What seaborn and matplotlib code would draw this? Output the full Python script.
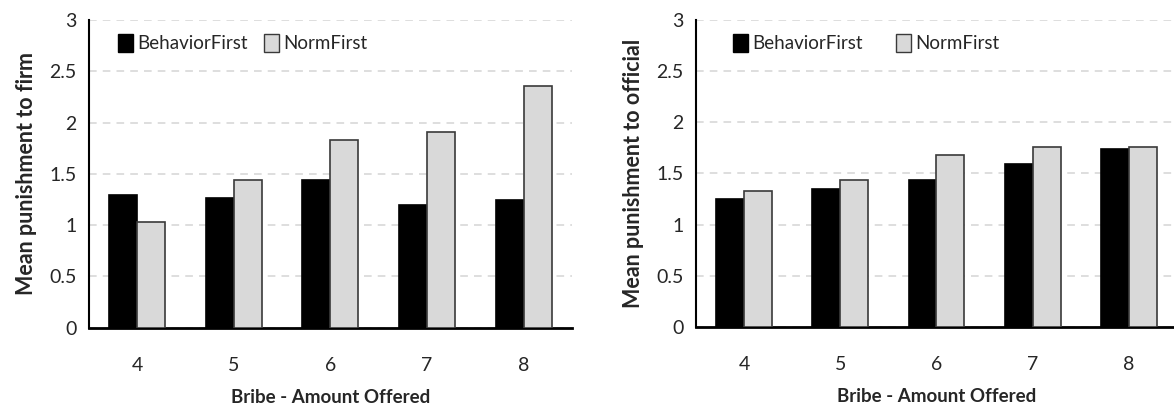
import pandas as pd
import matplotlib.pyplot as plt
import matplotlib.patches as mpatches
from matplotlib.ticker import FixedLocator
import seaborn as sns

# values
bribe = [4, 5, 6, 7, 8]
conditions = ["BehaviorFirst", "NormFirst"]
firm_behavior = [1.29, 1.26, 1.44, 1.20, 1.24]
firm_norm = [1.03, 1.44, 1.83, 1.91, 2.36]
official_behavior = [1.25, 1.35, 1.44, 1.59, 1.74]
official_norm = [1.33, 1.44, 1.68, 1.76, 1.76]
y_ticks = [0, 0.5, 1, 1.5, 2, 2.5, 3]
y_tick_labels = ["0", "0.5", "1", "1.5", "2", "2.5", "3"]

sns.set_style("white")
plt.rcParams["font.family"] = ["Lato", "DejaVu Sans"]

colors = {"BehaviorFirst": "#000000", "NormFirst": "#d9d9d9"}
edges = {"BehaviorFirst": "#000000", "NormFirst": "#3a3a3a"}


def long_form(behavior, norm):
    rows = []
    for b, v in zip(bribe, behavior):
        rows.append({"bribe": str(b), "cond": "BehaviorFirst", "value": v})
    for b, v in zip(bribe, norm):
        rows.append({"bribe": str(b), "cond": "NormFirst", "value": v})
    return pd.DataFrame(rows)


def draw(ax, df, ylabel, legend_xy, colspace):
    sns.barplot(data=df, x="bribe", y="value", hue="cond", hue_order=conditions,
                palette=colors, width=0.58, gap=0, ax=ax, legend=False, zorder=3)
    n = len(bribe)
    for i, p in enumerate(ax.patches):
        cond = conditions[i // n]
        p.set_edgecolor(edges[cond])
        p.set_linewidth(1.2)

    ax.set_ylim(0, 3)
    ax.set_xlim(-0.5, len(bribe) - 0.5)
    ax.set_yticks(y_ticks)
    ax.set_yticklabels(y_tick_labels, fontsize=14)
    ax.yaxis.grid(True, linestyle=(0, (5, 4)), color="#d4d4d4", linewidth=1.1, zorder=0)
    ax.xaxis.grid(False)
    ax.set_axisbelow(True)

    ax.tick_params(axis="x", which="major", length=0, labelsize=14, pad=21)
    ax.xaxis.set_minor_locator(FixedLocator([i - 0.5 for i in range(len(bribe) + 1)]))
    ax.tick_params(axis="x", which="minor", length=6, width=1.2, color="#444444", direction="out")
    ax.tick_params(axis="y", length=5, width=1.2, direction="out", color="#222222", pad=4)

    for side in ["top", "right"]:
        ax.spines[side].set_visible(False)
    ax.spines["left"].set_linewidth(1.5)
    ax.spines["left"].set_color("black")
    ax.spines["bottom"].set_linewidth(2)
    ax.spines["bottom"].set_color("black")

    ax.set_xlabel("Bribe - Amount Offered", fontsize=13.5, fontweight="bold", labelpad=11)
    ax.set_ylabel(ylabel, fontsize=15.5, fontweight="bold", labelpad=9)

    handles = [mpatches.Patch(facecolor=colors[c], edgecolor=edges[c], linewidth=1) for c in conditions]
    ax.legend(handles, conditions, loc="center left", bbox_to_anchor=legend_xy, frameon=False,
              ncol=2, fontsize=13.5, handlelength=0.8, handleheight=1.1, handletextpad=0.2,
              columnspacing=colspace, borderaxespad=0)


fig = plt.figure(figsize=(11.74, 4.08), dpi=100)
ax1 = fig.add_axes([0.0758, 0.197, 0.4114, 0.754])
ax2 = fig.add_axes([0.5928, 0.199, 0.4097, 0.752])

draw(ax1, long_form(firm_behavior, firm_norm), "Mean punishment to firm", (0.045, 0.925), 0.9)
draw(ax2, long_form(official_behavior, official_norm), "Mean punishment to official", (0.062, 0.925), 1.8)

fig.savefig("out.png", dpi=100)
